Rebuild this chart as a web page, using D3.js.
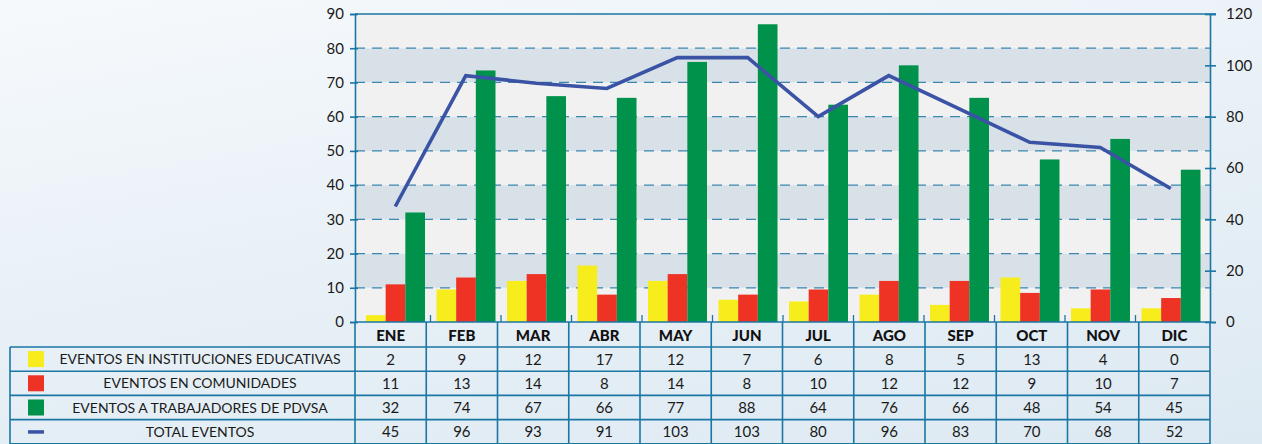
<!DOCTYPE html>
<html>

<head>
  <meta charset="utf-8">
  <title>Eventos 2009</title>
  <style>
    html, body { margin: 0; padding: 0; }
    body {
      width: 1262px; height: 444px; overflow: hidden;
      background: linear-gradient(170deg, #f6f9fc 0%, #e9f1f7 45%, #dde9f2 100%);
      font-family: Lato, "Noto Sans", sans-serif;
    }
    svg { display: block; }
  </style>
</head>

<body>
  <svg id="chart"></svg>

  <script src="https://cdnjs.cloudflare.com/ajax/libs/d3/7.8.5/d3.min.js"></script>
  <script>
    // months and table figures
    const months = ["ENE", "FEB", "MAR", "ABR", "MAY", "JUN", "JUL", "AGO", "SEP", "OCT", "NOV", "DIC"];
    const educativas = [2, 9, 12, 17, 12, 7, 6, 8, 5, 13, 4, 0];
    const comunidades = [11, 13, 14, 8, 14, 8, 10, 12, 12, 9, 10, 7];
    const trabajadores = [32, 74, 67, 66, 77, 88, 64, 76, 66, 48, 54, 45];
    const totales = [45, 96, 93, 91, 103, 103, 80, 96, 83, 70, 68, 52];

    // bar heights as drawn in the picture (they differ a little from the table)
    const barEducativas = [2, 9.5, 12, 16.5, 12, 6.5, 6, 8, 5, 13, 4, 4];
    const barComunidades = [11, 13, 14, 8, 14, 8, 9.5, 12, 12, 8.5, 9.5, 7];
    const barTrabajadores = [32, 73.5, 66, 65.5, 76, 87, 63.5, 75, 65.5, 47.5, 53.5, 44.5];

    const seriesNames = ["EVENTOS EN INSTITUCIONES EDUCATIVAS", "EVENTOS EN COMUNIDADES",
      "EVENTOS A TRABAJADORES DE PDVSA", "TOTAL EVENTOS"];
    const seriesColors = ["#f7ec1c", "#ee3224", "#00924a", "#3b53a5"];
    const leftTicks = [0, 10, 20, 30, 40, 50, 60, 70, 80, 90];
    const rightTicks = [0, 20, 40, 60, 80, 100, 120];

    const W = 1262, H = 444;
    const lineCol = "#1b76a3";
    const plotL = 355, plotR = 1210, plotT = 14, plotB = 322;
    const tableL = 10, rowH = 24.2, headB = 347;

    const svg = d3.select("#chart").attr("width", W).attr("height", H);

    const y = d3.scaleLinear().domain([0, 90]).range([plotB, plotT]);
    const y2 = d3.scaleLinear().domain([0, 120]).range([plotB, plotT]);

    // table columns
    const xc = d3.scaleBand().domain(months).range([plotL, plotR]);
    // bar groups sit a touch tighter than the table columns
    const xb = d3.scaleBand().domain(months).range([360, 1206]);
    const xs = d3.scaleBand().domain([0, 1, 2]).range([6, 65]);

    // plot background bands
    const bands = d3.range(0, 90, 10);
    svg.append("g").selectAll("rect").data(bands).join("rect")
      .attr("x", plotL).attr("width", plotR - plotL)
      .attr("y", d => y(d + 10)).attr("height", d => y(d) - y(d + 10))
      .attr("fill", d => (d / 10) % 2 === 1 ? "#d9e1e8" : "#f1f1f1");

    // dashed grid lines
    svg.append("g").selectAll("line").data(leftTicks.filter(d => d > 0 && d < 90)).join("line")
      .attr("x1", plotL).attr("x2", plotR)
      .attr("y1", d => y(d)).attr("y2", d => y(d))
      .attr("stroke", lineCol).attr("stroke-opacity", 0.85)
      .attr("stroke-width", 1.3).attr("stroke-dasharray", "10,7");

    // top border
    svg.append("line").attr("x1", plotL).attr("x2", plotR + 6)
      .attr("y1", plotT).attr("y2", plotT)
      .attr("stroke", lineCol).attr("stroke-width", 1.6);

    // bars
    const barSets = [barEducativas, barComunidades, barTrabajadores];
    const g = svg.append("g");
    barSets.forEach((vals, s) => {
      g.selectAll(".s" + s).data(vals).join("rect")
        .attr("class", "s" + s)
        .attr("x", (d, i) => xb(months[i]) + xs(s))
        .attr("width", xs.bandwidth())
        .attr("y", d => y(d))
        .attr("height", d => plotB - y(d))
        .attr("fill", seriesColors[s]);
    });

    // small category ticks
    svg.append("g").selectAll("line").data(months.slice(1)).join("line")
      .attr("x1", d => xb(d)).attr("x2", d => xb(d))
      .attr("y1", plotB - 7).attr("y2", plotB)
      .attr("stroke", lineCol).attr("stroke-width", 1.3);

    // total line
    const line = d3.line()
      .x((d, i) => xb(months[i]) + xb.bandwidth() / 2)
      .y(d => y2(d));
    svg.append("path").datum(totales)
      .attr("d", line)
      .attr("fill", "none").attr("stroke", seriesColors[3])
      .attr("stroke-width", 3.6).attr("stroke-linejoin", "miter");

    // axes
    const axisL = svg.append("g").attr("transform", `translate(${plotL},0)`)
      .call(d3.axisLeft(y).tickValues(leftTicks).tickSize(5).tickPadding(6));
    const axisR = svg.append("g").attr("transform", `translate(${plotR},0)`)
      .call(d3.axisRight(y2).tickValues(rightTicks).tickSize(6).tickPadding(10));
    [axisL, axisR].forEach(a => {
      a.select(".domain").attr("stroke", lineCol).attr("stroke-width", 1.6);
      a.selectAll(".tick line").attr("stroke", lineCol).attr("stroke-width", 1.6);
      a.selectAll(".tick text").attr("fill", "#1a1a1a")
        .style("font-family", "Lato, 'Noto Sans', sans-serif").style("font-size", "15px");
    });
    axisL.selectAll(".tick line").attr("x2", 3).attr("x1", -5);
    axisR.selectAll(".tick line").attr("x1", -5);

    // data table
    const t = svg.append("g");
    const rowsY = d3.range(5).map(i => headB + i * rowH);

    // horizontal rules
    t.selectAll(".h").data(rowsY).join("line").attr("class", "h")
      .attr("x1", tableL).attr("x2", plotR)
      .attr("y1", d => d).attr("y2", d => d)
      .attr("stroke", lineCol).attr("stroke-width", 1.6);
    t.append("line").attr("x1", plotL).attr("x2", plotR)
      .attr("y1", plotB).attr("y2", plotB)
      .attr("stroke", lineCol).attr("stroke-width", 1.6);

    // vertical rules
    const vx = months.map(m => xc(m)).concat([plotR]);
    t.selectAll(".v").data(vx).join("line").attr("class", "v")
      .attr("x1", d => d).attr("x2", d => d)
      .attr("y1", plotB).attr("y2", H)
      .attr("stroke", lineCol).attr("stroke-width", 1.6);
    t.append("line").attr("x1", tableL).attr("x2", tableL)
      .attr("y1", headB).attr("y2", H)
      .attr("stroke", lineCol).attr("stroke-width", 1.6);

    // month headers
    t.selectAll(".m").data(months).join("text").attr("class", "m")
      .attr("x", d => xc(d) + xc.bandwidth() / 2).attr("y", plotB + 18.5)
      .attr("text-anchor", "middle").attr("font-weight", 900)
      .attr("font-size", 15).attr("fill", "#111").text(d => d);

    // legend cells
    const legendX = 200;
    seriesNames.forEach((name, r) => {
      const yc = rowsY[r] + rowH / 2;
      if (r < 3) {
        t.append("rect").attr("x", 28).attr("y", yc - 8).attr("width", 16).attr("height", 16)
          .attr("fill", seriesColors[r]);
      } else {
        t.append("rect").attr("x", 28).attr("y", yc - 1.5).attr("width", 16).attr("height", 3.5)
          .attr("fill", seriesColors[r]);
      }
      t.append("text").attr("x", legendX).attr("y", yc + 5)
        .attr("text-anchor", "middle").attr("font-size", 14).attr("fill", "#1a1a1a")
        .text(name);
    });

    // values
    const tableRows = [educativas, comunidades, trabajadores, totales];
    tableRows.forEach((vals, r) => {
      const yc = rowsY[r] + rowH / 2;
      t.selectAll(".r" + r).data(vals).join("text").attr("class", "r" + r)
        .attr("x", (d, i) => xc(months[i]) + xc.bandwidth() / 2).attr("y", yc + 5.5)
        .attr("text-anchor", "middle").attr("font-size", 15).attr("fill", "#1a1a1a")
        .text(d => d);
    });
  </script>
</body>
</html>
